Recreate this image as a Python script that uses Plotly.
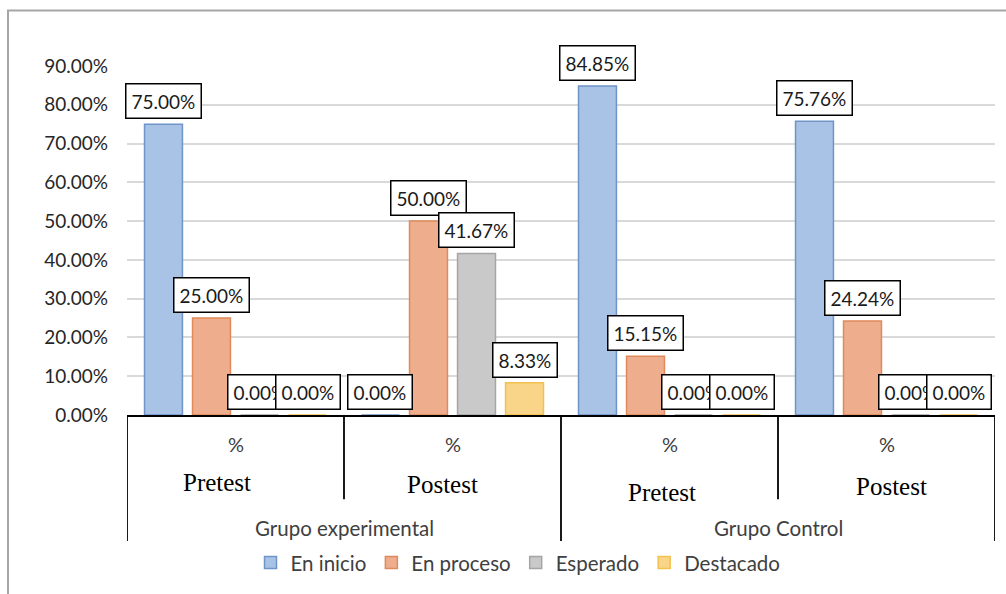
import plotly.graph_objects as go

# ---- data ----
groups = ["Grupo experimental", "Grupo Control"]
tests = ["Pretest", "Postest", "Pretest", "Postest"]
sub_label = ["%", "%", "%", "%"]
series = ["En inicio", "En proceso", "Esperado", "Destacado"]
en_inicio = [0.75, 0.0, 0.8485, 0.7576]
en_proceso = [0.25, 0.50, 0.1515, 0.2424]
esperado = [0.0, 0.4167, 0.0, 0.0]
destacado = [0.0, 0.0833, 0.0, 0.0]
yticks = [0, 0.1, 0.2, 0.3, 0.4, 0.5, 0.6, 0.7, 0.8, 0.9]

values = [en_inicio, en_proceso, esperado, destacado]
fills = ["#a9c3e6", "#eeae8e", "#c9c9c9", "#f9d58a"]
lines = ["#6f94c8", "#e0895a", "#a5a5a5", "#f2c14e"]

W, H = 1006, 594
ML, MR, MT, MB = 127, 11, 66, 176
PW, PH = W - ML - MR, H - MT - MB

def py(pix):
    return (H - MB - pix) / PH

def px(pix):
    return (pix - ML) / PW

bargap = 0.115
bargroupgap = 0.21
slot = (1 - bargap) / len(series)

xs = list(range(len(tests)))
fig = go.Figure()
for k, name in enumerate(series):
    fig.add_trace(go.Bar(
        x=xs, y=values[k], name=name,
        marker=dict(color=fills[k], line=dict(color=lines[k], width=1.5)),
    ))

label_font = dict(family="Lato", size=19, color="#1a1a1a")
ann = []
# draw per category so that later bar labels cover earlier ones
for i in xs:
    for k in range(len(series)):
        v = values[k][i]
        ann.append(dict(
            x=i + (k - 1.5) * slot, y=v, xref="x", yref="y",
            text=f"{v*100:.2f}%", showarrow=False,
            xanchor="center", yanchor="bottom", yshift=5,
            bgcolor="white", bordercolor="black", borderwidth=1.5, borderpad=5,
            font=label_font,
        ))

# category table text
test_y = [486, 488, 496, 490]
test_dx = [-19, -10, -8, 5]
for i in xs:
    ann.append(dict(x=i, y=py(447), xref="x", yref="paper", text=sub_label[i],
                    xanchor="center", yanchor="middle", showarrow=False,
                    font=dict(family="Lato", size=20, color="#404040")))
    ann.append(dict(x=i, y=py(test_y[i]), xref="x", yref="paper", text=tests[i],
                    xshift=test_dx[i], xanchor="center", yanchor="middle", showarrow=False,
                    font=dict(family="Liberation Serif", size=25, color="black")))
for g, name in enumerate(groups):
    ann.append(dict(x=2 * g + 0.5, y=py(532), xref="x", yref="paper", text=name,
                    xanchor="center", yanchor="middle", showarrow=False,
                    font=dict(family="Lato", size=20.5, color="#404040")))

shapes = []
for b in [-0.5, 1.5, 3.5]:
    shapes.append(dict(type="line", xref="x", yref="paper", x0=b, x1=b,
                       y0=0, y1=py(545), line=dict(color="black", width=1.8)))
for b in [0.5, 2.5]:
    shapes.append(dict(type="line", xref="x", yref="paper", x0=b, x1=b,
                       y0=0, y1=py(503), line=dict(color="black", width=1.8)))
# outer chart border
shapes.append(dict(type="rect", xref="paper", yref="paper",
                   x0=px(8), x1=px(1020), y0=py(10), y1=py(620),
                   line=dict(color="#a6a6a6", width=2), fillcolor="rgba(0,0,0,0)"))

fig.update_layout(
    width=W, height=H,
    margin=dict(l=ML, r=MR, t=MT, b=MB),
    paper_bgcolor="white", plot_bgcolor="white",
    barmode="group", bargap=bargap, bargroupgap=bargroupgap,
    showlegend=True,
    legend=dict(orientation="h", x=px(518), xanchor="center", y=py(567), yanchor="middle",
                font=dict(family="Lato", size=20.5, color="#404040"),
                itemwidth=30, traceorder="normal"),
    annotations=ann, shapes=shapes,
    xaxis=dict(range=[-0.5, 3.5], showticklabels=False, showgrid=False, zeroline=False,
               showline=True, linecolor="black", linewidth=1.8, ticks=""),
    yaxis=dict(range=[0, 0.9], tickvals=yticks, tickformat=".2%", showgrid=True,
               gridcolor="#d9d9d9", gridwidth=1.5, zeroline=False, showline=False,
               ticklabelstandoff=18,
               tickfont=dict(family="Lato", size=19, color="#262626")),
)

fig.write_html("out.html")
